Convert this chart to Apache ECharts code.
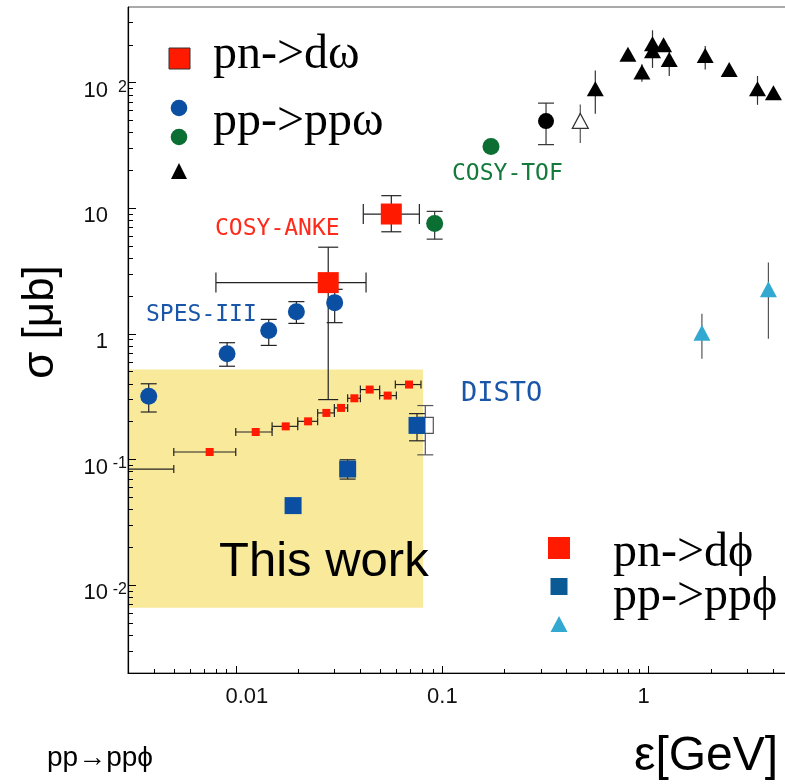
<!DOCTYPE html>
<html>
<head>
<meta charset="utf-8">
<script src="https://cdn.jsdelivr.net/npm/echarts@6/dist/echarts.min.js"></script>
<style>
  html, body { margin: 0; padding: 0; background: #fff; }
  #chart { width: 785px; height: 784px; }
</style>
</head>
<body>
<div id="chart"></div>
<script>
// rows: [eps, sigma, epsLo, epsHi, sigmaLo, sigmaHi]
const pnDOmega = [
  [0.0566, 9.0, 0.0414, 0.0774, 6.5, 12.6],
  [0.0280, 2.56, 0.0080, 0.0427, 0.30, 4.9]
]
const ppOmegaSpes = [
  [0.00378, 0.319, null, null, 0.239, 0.401],
  [0.00906, 0.695, null, null, 0.553, 0.851],
  [0.01442, 1.066, null, null, 0.810, 1.305],
  [0.01963, 1.503, null, null, 1.213, 1.807],
  [0.03009, 1.774, null, null, 1.229, 2.265]
]
const ppOmegaTof = [
  [0.0918, 7.58, null, null, 5.68, 9.45],
  [0.1721, 31.0]
]
const ppOmegaDot = [[0.318, 49.4, null, null, 32.1, 68.7]]
const ppOmegaOpen = [[0.466, 49.6, null, null, 33.1, 67.0]]
const ppOmegaTri = [
  [0.551, 89.4, null, null, 56.5, 125],
  [0.793, 168],
  [0.927, 121.6, null, null, 101.6, 140],
  [1.043, 204, null, null, 131, 261],
  [1.043, 179],
  [1.180, 200.6],
  [1.257, 153, null, null, 113, 190],
  [1.878, 164.8, null, null, 127.4, 196],
  [2.454, 127.4],
  [3.365, 89.4, null, null, 66.6, 113],
  [4.02, 83]
]
const pnDPhi = [
  [0.0025, 0.084, 0.0010, 0.0050],
  [0.00746, 0.1148, 0.0050, 0.00998],
  [0.01247, 0.1657, 0.00998, 0.01497],
  [0.01743, 0.1837, 0.01497, 0.01993],
  [0.02237, 0.2014, 0.01993, 0.02489],
  [0.02743, 0.2350, 0.02489, 0.02999],
  [0.03232, 0.2576, 0.02999, 0.03478],
  [0.03749, 0.3073, 0.03478, 0.04008],
  [0.04446, 0.3606, 0.04008, 0.04970],
  [0.05434, 0.3229, 0.04970, 0.05987],
  [0.06898, 0.3953, 0.0592, 0.0788]
]
const ppPhiSquare = [
  [0.01892, 0.0430],
  [0.03478, 0.0840, null, null, 0.0699, 0.0996],
  [0.0754, 0.187, null, null, 0.141, 0.232]
]
const ppPhiOpen = [[0.0827, 0.187, null, null, 0.109, 0.269]]
const ppPhiTri = [
  [1.81, 1.02, null, null, 0.634, 1.45],
  [3.80, 2.265, null, null, 0.915, 3.70]
]
// "This work" band: [epsFrom, sigmaTop, epsTo, sigmaBottom]
const thisWorkBox = [0.003, 0.521, 0.0806, 0.0066]

const xMajor = [0.01, 0.1, 1]
const xMinor = [0.004, 0.005, 0.006, 0.007, 0.008, 0.009,
  0.02, 0.03, 0.04, 0.05, 0.06, 0.07, 0.08, 0.09,
  0.2, 0.3, 0.4, 0.5, 0.6, 0.7, 0.8, 0.9, 2, 3, 4]
const yMajor = [0.01, 0.1, 1, 10, 100]
const yMinor = [0.003, 0.004, 0.005, 0.006, 0.007, 0.008, 0.009,
  0.02, 0.03, 0.04, 0.05, 0.06, 0.07, 0.08, 0.09,
  0.2, 0.3, 0.4, 0.5, 0.6, 0.7, 0.8, 0.9,
  2, 3, 4, 5, 6, 7, 8, 9, 20, 30, 40, 50, 60, 70, 80, 90, 200, 300]

const RED = '#ff1a00'
const BLUE = '#0b4fa3'
const GREEN = '#0b6e32'
const CYAN = '#33a9d2'
const YELLOW = '#f9e99b'
const FONT = 'Liberation Sans'
const SERIF = 'Liberation Serif'
const MONO = 'DejaVu Sans Mono'

function pts(rows) {
  return rows.map(r => [r[0], r[1]])
}

function errorBars(rows, capV, capH, color) {
  return {
    type: 'custom',
    clip: true,
    silent: true,
    z: 3,
    data: pts(rows),
    renderItem: function(params, api) {
      const r = rows[params.dataIndex]
      const kids = []
      const st = { stroke: color, lineWidth: 1.2 }
      const seg = (x1, y1, x2, y2) => kids.push({ type: 'line', shape: { x1, y1, x2, y2 }, style: st })
      if (r[2] != null) {
        const a = api.coord([r[2], r[1]])
        const b = api.coord([r[3], r[1]])
        seg(a[0], a[1], b[0], b[1])
        if (capV) {
          seg(a[0], a[1] - capV, a[0], a[1] + capV)
          seg(b[0], b[1] - capV, b[0], b[1] + capV)
        }
      }
      if (r[4] != null) {
        const a = api.coord([r[0], r[4]])
        const b = api.coord([r[0], r[5]])
        seg(a[0], a[1], b[0], b[1])
        if (capH) {
          seg(a[0] - capH, a[1], a[0] + capH, a[1])
          seg(b[0] - capH, b[1], b[0] + capH, b[1])
        }
      }
      return { type: 'group', children: kids }
    }
  }
}

function markers(rows, symbol, size, color, border) {
  return {
    type: 'scatter',
    clip: true,
    silent: true,
    z: 5,
    symbol: symbol,
    symbolSize: size,
    data: pts(rows),
    itemStyle: {
      color: color,
      opacity: 1,
      borderColor: border || color,
      borderWidth: border ? 1.2 : 0
    }
  }
}

function xLabel(v) {
  if (v < 0.05) return '{r|' + v + '}'
  if (v > 0.5) return '{l|' + v + '}'
  return '{c|' + v + '}'
}

function yLabel(v) {
  const p = Math.round(Math.log10(v))
  if (p === 0) return '{b|1}{s|}'
  if (p === 1) return '{b|10}{s|}'
  return '{b|10}{s|' + p + '}'
}

const axisBase = {
  type: 'log',
  logBase: 10,
  z: 10,
  splitLine: { show: false },
  minorTick: { show: false }
}

const xText = { fontSize: 22, fontFamily: FONT, color: '#111' }

const chart = echarts.init(document.getElementById('chart'))
chart.setOption({
  backgroundColor: '#fff',
  animation: false,
  grid: {
    left: 128, top: 7, width: 665, height: 666,
    show: true, borderColor: '#555', borderWidth: 1,
    backgroundColor: 'transparent',
    outerBoundsMode: 'none'
  },
  xAxis: [
    Object.assign({}, axisBase, {
      min: 0.003, max: 5, position: 'bottom',
      axisLine: { lineStyle: { color: '#000', width: 1.2 } },
      axisTick: { inside: true, length: 7, customValues: xMajor, lineStyle: { color: '#000' } },
      axisLabel: {
        customValues: xMajor, margin: 13, fontSize: 22, fontFamily: FONT, color: '#111',
        formatter: xLabel,
        rich: {
          r: Object.assign({ padding: [0, 0, 0, 22] }, xText),
          l: Object.assign({ padding: [0, 10, 0, 0] }, xText),
          c: xText
        }
      }
    }),
    Object.assign({}, axisBase, {
      min: 0.003, max: 5, position: 'bottom',
      axisLine: { show: false },
      axisTick: { inside: true, length: 4, customValues: xMinor, lineStyle: { color: '#000' } },
      axisLabel: { show: false }
    })
  ],
  yAxis: [
    Object.assign({}, axisBase, {
      min: 0.002, max: 400, position: 'left',
      axisLine: { lineStyle: { color: '#000', width: 1.2 } },
      axisTick: { inside: true, length: 8, customValues: yMajor, lineStyle: { color: '#000' } },
      axisLabel: {
        customValues: yMajor, margin: 1, color: '#111', padding: [16, 0, 0, 0],
        formatter: yLabel,
        rich: {
          b: { fontSize: 22, fontFamily: FONT, color: '#111', lineHeight: 23 },
          s: { fontSize: 16, fontFamily: FONT, color: '#111', width: 19, align: 'right', verticalAlign: 'top', lineHeight: 15 }
        }
      }
    }),
    Object.assign({}, axisBase, {
      min: 0.002, max: 400, position: 'left',
      axisLine: { show: false },
      axisTick: { inside: true, length: 5, customValues: yMinor, lineStyle: { color: '#000' } },
      axisLabel: { show: false }
    })
  ],
  series: [
    {
      type: 'scatter',
      data: [],
      z: 1,
      silent: true,
      markArea: {
        silent: true,
        itemStyle: { color: YELLOW, opacity: 1 },
        data: [[
          { coord: [thisWorkBox[0], thisWorkBox[1]] },
          { coord: [thisWorkBox[2], thisWorkBox[3]] }
        ]]
      }
    },
    errorBars(pnDPhi, 4, 0, '#222'),
    errorBars(pnDOmega, 10, 10, '#222'),
    errorBars(ppOmegaSpes, 0, 8, '#222'),
    errorBars(ppOmegaTof, 0, 8, '#333'),
    errorBars(ppOmegaDot, 0, 8, '#333'),
    errorBars(ppOmegaOpen, 0, 0, '#555'),
    errorBars(ppOmegaTri, 0, 0, '#333'),
    errorBars(ppPhiSquare, 0, 8, '#222'),
    errorBars(ppPhiOpen, 0, 8, '#555'),
    errorBars(ppPhiTri, 0, 0, '#555'),
    markers(ppPhiOpen, 'rect', 16, '#fff', '#555'),
    markers(pnDPhi, 'rect', 8, RED),
    markers(pnDOmega, 'rect', 21, RED),
    markers(ppOmegaSpes, 'circle', 17, BLUE),
    markers(ppOmegaTof, 'circle', 17, GREEN),
    markers(ppOmegaDot, 'circle', 16, '#000'),
    markers(ppOmegaOpen, 'triangle', [16, 15], '#fff', '#333'),
    markers(ppOmegaTri, 'triangle', [17, 15], '#000'),
    markers(ppPhiSquare, 'rect', 17, BLUE),
    markers(ppPhiTri, 'triangle', [17, 16], CYAN)
  ],
  graphic: [
    // upper legend
    { type: 'rect', z: 100, shape: { x: 169, y: 48, width: 21, height: 21 }, style: { fill: RED, stroke: '#333', lineWidth: 1 } },
    { type: 'circle', z: 100, shape: { cx: 179, cy: 108, r: 8.3 }, style: { fill: BLUE } },
    { type: 'circle', z: 100, shape: { cx: 179, cy: 137, r: 8.3 }, style: { fill: GREEN } },
    { type: 'polygon', z: 100, shape: { points: [[171, 179], [187, 179], [179, 163]] }, style: { fill: '#000' } },
    { type: 'text', z: 100, x: 213, y: 55, style: { text: 'pn->dω', fontSize: 48, fontFamily: SERIF, fill: '#000', verticalAlign: 'middle' } },
    { type: 'text', z: 100, x: 213, y: 122, style: { text: 'pp->ppω', fontSize: 48, fontFamily: SERIF, fill: '#000', verticalAlign: 'middle' } },
    // lower legend
    { type: 'rect', z: 100, shape: { x: 548, y: 537, width: 22, height: 22 }, style: { fill: RED } },
    { type: 'rect', z: 100, shape: { x: 550.5, y: 578, width: 17, height: 17 }, style: { fill: '#0a5a96' } },
    { type: 'polygon', z: 100, shape: { points: [[550.5, 632], [567.5, 632], [559, 616]] }, style: { fill: CYAN } },
    { type: 'text', z: 100, x: 613, y: 553, style: { text: 'pn->dϕ', fontSize: 48, fontFamily: SERIF, fill: '#000', verticalAlign: 'middle' } },
    { type: 'text', z: 100, x: 613, y: 597, style: { text: 'pp->ppϕ', fontSize: 48, fontFamily: SERIF, fill: '#000', verticalAlign: 'middle' } },
    // experiment labels
    { type: 'text', z: 100, x: 215, y: 229, style: { text: 'COSY-ANKE', fontSize: 23, fontFamily: MONO, fill: '#ff2a1a', verticalAlign: 'middle' } },
    { type: 'text', z: 100, x: 452, y: 174, style: { text: 'COSY-TOF', fontSize: 23, fontFamily: MONO, fill: '#137a3c', verticalAlign: 'middle' } },
    { type: 'text', z: 100, x: 146, y: 315, style: { text: 'SPES-III', fontSize: 23, fontFamily: MONO, fill: '#1a56a8', verticalAlign: 'middle' } },
    { type: 'text', z: 100, x: 461, y: 394, style: { text: 'DISTO', fontSize: 27, fontFamily: MONO, fill: '#1a56a8', verticalAlign: 'middle' } },
    { type: 'text', z: 100, x: 219, y: 562, style: { text: 'This work', fontSize: 49, fontFamily: FONT, fill: '#000', verticalAlign: 'middle' } },
    // axis titles
    { type: 'text', z: 100, x: 41, y: 322, rotation: Math.PI / 2, style: { text: 'σ [μb]', fontSize: 44, fontFamily: FONT, fill: '#000', align: 'center', verticalAlign: 'middle' } },
    { type: 'text', z: 100, x: 634, y: 757, style: { text: 'ε[GeV]', fontSize: 48, fontFamily: FONT, fill: '#000', verticalAlign: 'middle' } },
    { type: 'text', z: 100, x: 47, y: 758, style: { text: 'pp→ppϕ', fontSize: 28, fontFamily: FONT, fill: '#000', verticalAlign: 'middle' } }
  ]
})
</script>
</body>
</html>
